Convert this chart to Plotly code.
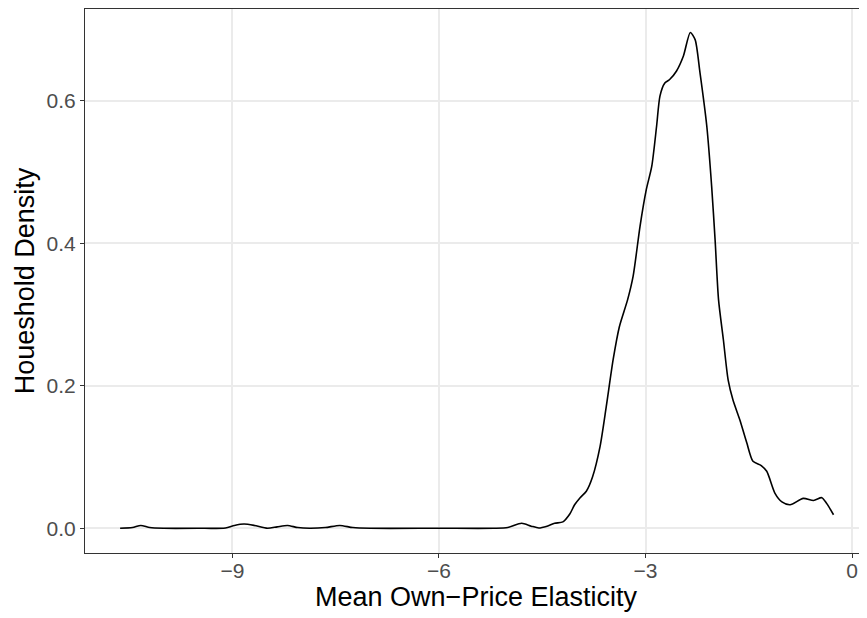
import plotly.graph_objects as go

# Density curve
elasticity = [-10.63, -10.45, -10.33, -10.2, -10.0, -9.5, -9.1, -8.97, -8.83, -8.68, -8.49, -8.35,
              -8.2, -8.05, -7.88, -7.65, -7.44, -7.25, -7.0, -6.0, -5.2, -5.0, -4.80, -4.66, -4.55,
              -4.43, -4.32, -4.2, -4.1, -4.03, -3.95, -3.86, -3.77, -3.66, -3.57, -3.47, -3.38,
              -3.26, -3.18, -3.08, -2.99, -2.91, -2.84, -2.79, -2.72, -2.65, -2.55, -2.45, -2.35,
              -2.28, -2.21, -2.11, -2.04, -1.99, -1.94, -1.87, -1.80, -1.73, -1.63, -1.53, -1.44,
              -1.32, -1.24, -1.12, -1.02, -0.90, -0.71, -0.56, -0.44, -0.37, -0.27]
density = [0.0, 0.001, 0.004, 0.001, 0.0, 0.0, 0.0005, 0.004, 0.006, 0.004, 0.0, 0.002,
           0.004, 0.001, 0.0, 0.001, 0.004, 0.001, 0.0, 0.0, 0.0, 0.001, 0.007, 0.003, 0.0005,
           0.003, 0.007, 0.009, 0.02, 0.033, 0.043, 0.052, 0.072, 0.115, 0.171, 0.237, 0.283,
           0.321, 0.354, 0.424, 0.475, 0.508, 0.564, 0.607, 0.625, 0.630, 0.642, 0.663, 0.696,
           0.686, 0.640, 0.564, 0.480, 0.405, 0.321, 0.265, 0.208, 0.180, 0.152, 0.120, 0.094,
           0.088, 0.080, 0.049, 0.037, 0.033, 0.042, 0.039, 0.043, 0.035, 0.019]

x_ticks = [-9, -6, -3, 0]
x_tick_labels = ["\u22129", "\u22126", "\u22123", "0"]
y_ticks = [0.0, 0.2, 0.4, 0.6]
y_tick_labels = ["0.0", "0.2", "0.4", "0.6"]

FONT = "Liberation Sans, Arial, sans-serif"

fig = go.Figure()
fig.add_trace(go.Scatter(x=elasticity, y=density, mode="lines",
                         line=dict(color="black", width=1.6, shape="spline", smoothing=0.7),
                         hoverinfo="skip", showlegend=False))

fig.update_layout(
    width=859, height=610,
    margin=dict(l=77, r=0, t=1, b=65),
    paper_bgcolor="white", plot_bgcolor="white",
    font=dict(family=FONT),
    xaxis=dict(range=[-11.14, 0.216], tickvals=x_ticks, ticktext=x_tick_labels,
               showgrid=True, gridcolor="#EBEBEB", gridwidth=1.5, zeroline=False,
               showline=True, linecolor="#333333", linewidth=1, mirror=True,
               ticks="outside", ticklen=4, tickcolor="#333333", tickwidth=1,
               ticklabelstandoff=-5,
               tickfont=dict(size=21, color="#4D4D4D", family=FONT),
               title=dict(text="Mean Own\u2212Price Elasticity", font=dict(size=27, color="black", family=FONT),
                          standoff=4)),
    yaxis=dict(range=[-0.0347, 0.729], tickvals=y_ticks, ticktext=y_tick_labels,
               showgrid=True, gridcolor="#EBEBEB", gridwidth=1.5, zeroline=False,
               showline=True, linecolor="#333333", linewidth=1, mirror=False,
               ticks="outside", ticklen=4, tickcolor="#333333", tickwidth=1,
               tickfont=dict(size=21, color="#4D4D4D", family=FONT),
               title=dict(text="Houeshold Density", font=dict(size=27, color="black", family=FONT),
                          standoff=4)),
)

fig.write_html("out.html")
